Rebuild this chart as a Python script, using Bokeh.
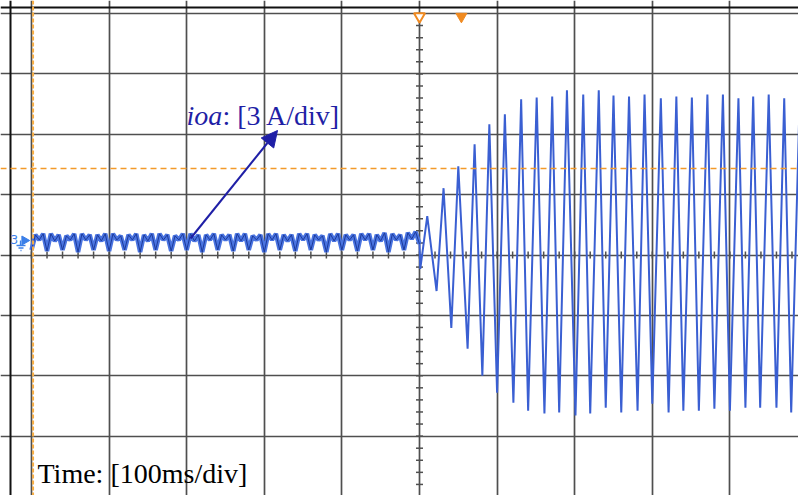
import numpy as np
from bokeh.plotting import figure
from bokeh.models import Grid, FixedTicker, Span, Label, Arrow, NormalHead
from bokeh.embed import file_html
from bokeh.resources import INLINE

# ---------------- data ----------------
# time in ms (0 = trigger at screen centre), current in A (3 A/div)
x_div_ticks = [-500, -400, -300, -200, -100, 0, 100, 200, 300, 400, 500]
y_div_ticks = [-12, -9, -6, -3, 0, 3, 6, 9, 12]

# steady-state ripple before the step (samples every 5 ms)
ripple_t = list(range(-500, 1, 5))
ripple_a = [
    0.25, 1.00, 0.75, 1.05,
    0.20, 1.05, 0.70, 1.00,
    0.25, 0.95, 0.75, 1.05,
    0.15, 1.05, 0.75, 1.00,
    0.25, 1.00, 0.70, 1.05,
    0.20, 1.05, 0.75, 0.95,
    0.25, 1.00, 0.75, 1.05,
    0.15, 1.00, 0.70, 1.05,
    0.25, 1.05, 0.75, 1.00,
    0.20, 0.95, 0.75, 1.05,
    0.25, 1.05, 0.70, 1.00,
    0.15, 1.00, 0.75, 1.05,
    0.25, 1.00, 0.75, 1.00,
    0.20, 1.05, 0.70, 1.05,
    0.25, 0.95, 0.75, 1.00,
    0.15, 1.05, 0.75, 1.05,
    0.25, 1.00, 0.70, 1.00,
    0.20, 1.05, 0.75, 1.05,
    0.25, 1.00, 0.75, 0.95,
    0.15, 1.05, 0.70, 1.05,
    0.25, 1.00, 0.75, 1.00,
    0.20, 1.05, 0.75, 1.05,
    0.25, 1.00, 0.70, 1.10,
    0.15, 1.05, 0.75, 1.00,
    0.25, 1.10, 0.80, 1.15,
    0.55,
]

# growing oscillation after the step: successive troughs and peaks
trans_t = [1, 10, 22, 31, 41, 50, 62, 71, 81, 90, 100, 110, 121, 131, 140,
           151, 161, 171, 180, 190, 201, 211, 220, 231, 240, 250, 260, 270,
           281, 290, 300, 311, 321, 331, 340, 351, 360, 371, 380, 391, 400,
           411, 420, 430, 439, 450, 460, 470, 479, 490]
trans_a = [-0.69, 1.93, -1.79, 3.32, -3.62, 4.41, -4.66, 5.50, -6.00, 6.50,
           -6.84, 6.99, -7.34, 7.74, -7.74, 7.83, -7.88, 7.88, -7.83, 8.18,
           -7.98, 7.98, -7.88, 8.18, -7.59, 7.93, -7.83, 7.88, -7.74, 7.98,
           -7.39, 7.79, -7.83, 7.88, -7.74, 7.83, -7.74, 7.98, -7.64, 7.98,
           -7.74, 7.79, -7.59, 7.88, -7.59, 7.98, -7.59, 7.79, -7.83, 7.90]

trigger_level = 4.30      # A (orange dashed horizontal)
trigger_marker_t = 54.0   # ms (filled orange marker at the top)
cursor_t = -498.0         # ms (orange dashed vertical)

# ---------------- layout ----------------
W, H = 798, 495
PX_PER_MS = 0.776
PX_PER_A = 20.125
X0_PX, Y0_PX = 419.0, 254.5


def t_of(px):
    return (px - X0_PX) / PX_PER_MS


def a_of(py):
    return (Y0_PX - py) / PX_PER_A


p = figure(width=W, height=H, x_range=(t_of(0), t_of(W)), y_range=(a_of(H), a_of(0)),
           x_axis_type=None, y_axis_type=None, toolbar_location=None,
           output_backend="svg", min_border=0, outline_line_color=None)
p.background_fill_color = "white"
p.border_fill_color = "white"

grid_col = "#4f4f4f"
p.add_layout(Grid(dimension=0, ticker=FixedTicker(ticks=x_div_ticks),
                  grid_line_color=grid_col, grid_line_width=1.7))
p.add_layout(Grid(dimension=1, ticker=FixedTicker(ticks=y_div_ticks),
                  grid_line_color=grid_col, grid_line_width=1.7))

# minor ticks on the centre cross
ytick = np.arange(-12, 12.01, 0.6)
p.scatter(np.zeros_like(ytick), ytick, marker="dash", size=7,
          line_color=grid_col, line_width=1.5)
xtick = np.arange(-500, 500.1, 20)
p.scatter(xtick, np.zeros_like(xtick), marker="dash", angle=np.pi / 2, size=7,
          line_color=grid_col, line_width=1.5)

# outer frame (left and top)
p.add_layout(Span(location=t_of(10), dimension="height", line_color="#111111", line_width=2))
p.add_layout(Span(location=a_of(7), dimension="width", line_color="#111111", line_width=2))

# orange cursors
p.add_layout(Span(location=cursor_t, dimension="height", line_color="#f6ad45",
                  line_width=2, line_dash="4 2"))
p.add_layout(Span(location=trigger_level, dimension="width", line_color="#f39a2a",
                  line_width=1.6, line_dash="6 4"))
p.scatter([0], [a_of(16)], marker="inverted_triangle", size=11, fill_color="white",
          line_color="#f08a20", line_width=2)
p.scatter([trigger_marker_t], [a_of(16)], marker="inverted_triangle", size=11,
          fill_color="#f08a20", line_color="#f08a20")

# waveform
wave_col = "#3a5fd2"
p.line(ripple_t, ripple_a, line_color="#4a74e0", line_width=4.5)
p.line(ripple_t, ripple_a, line_color="#1c3a9a", line_width=1.0)
p.line([ripple_t[-1]] + trans_t, [ripple_a[-1]] + trans_a, line_color=wave_col, line_width=2)

# channel marker on the left
ch_col = "#3b7fe8"
p.add_layout(Label(x=t_of(10), y=a_of(239), text="3", text_color=ch_col,
                   text_font="DejaVu Sans", text_font_size="12px",
                   text_baseline="middle", text_align="left"))
p.scatter([t_of(24)], [a_of(240)], marker="triangle", angle=-np.pi / 2, size=9,
          fill_color=ch_col, line_color=ch_col)
p.segment(x0=[t_of(20), t_of(16), t_of(18), t_of(20)],
          y0=[a_of(240), a_of(245), a_of(247.5), a_of(250)],
          x1=[t_of(20), t_of(25), t_of(23), t_of(21)],
          y1=[a_of(245), a_of(245), a_of(247.5), a_of(250)],
          line_color=ch_col, line_width=1.3)

# annotation
ann_col = "#1f1fa6"
p.add_layout(Arrow(end=NormalHead(size=16, fill_color=ann_col, line_color=ann_col),
                   x_start=t_of(190), y_start=a_of(238), x_end=t_of(277), y_end=a_of(130),
                   line_color=ann_col, line_width=2))
p.add_layout(Label(x=t_of(186), y=a_of(115), text="ioa", text_color=ann_col,
                   text_font="Liberation Serif", text_font_style="italic",
                   text_font_size="28px", text_baseline="middle"))
p.add_layout(Label(x=t_of(222), y=a_of(115), text=": [3 A/div]", text_color=ann_col,
                   text_font="Liberation Serif", text_font_size="28px",
                   text_baseline="middle"))
p.add_layout(Label(x=t_of(37), y=a_of(473), text="Time: [100ms/div]", text_color="black",
                   text_font="Liberation Serif", text_font_size="28px",
                   text_baseline="middle"))

open("out.html", "w").write(file_html(p, INLINE))
